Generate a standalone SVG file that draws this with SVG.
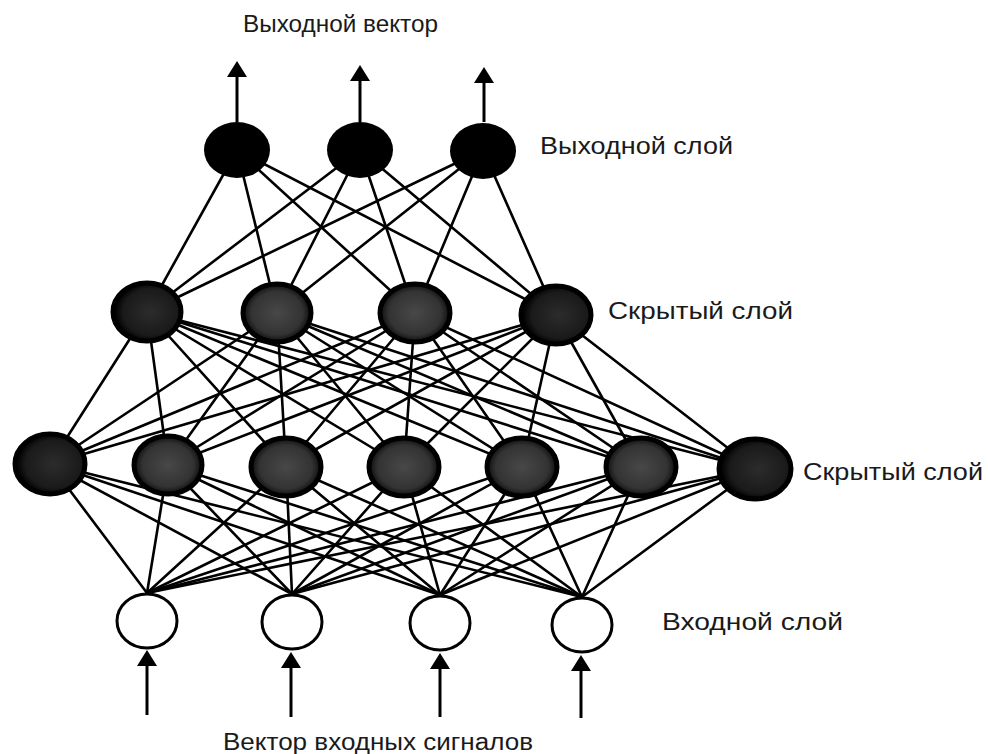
<svg xmlns="http://www.w3.org/2000/svg" width="988" height="754" viewBox="0 0 988 754">
<style>
.c line{stroke:#000;stroke-width:2.6;stroke-linecap:round}
.a{stroke:#000;stroke-width:3;marker-end:url(#ah)}
.out{fill:#000}
.hid{fill:url(#g1);stroke:#000;stroke-width:5}
.hidd{fill:url(#g2);stroke:#000;stroke-width:5}
.inp{fill:#fff;stroke:#000;stroke-width:3}
text{font-family:"Liberation Sans",Arial,sans-serif;font-size:23px;fill:#1a1a1a}
</style>
<defs>
<radialGradient id="g1" cx="0.5" cy="0.5" r="0.5">
<stop offset="0" stop-color="#484848"/><stop offset="0.75" stop-color="#333"/><stop offset="1" stop-color="#0d0d0d"/>
</radialGradient>
<radialGradient id="g2" cx="0.55" cy="0.5" r="0.5">
<stop offset="0" stop-color="#2c2c2c"/><stop offset="0.8" stop-color="#1a1a1a"/><stop offset="1" stop-color="#050505"/>
</radialGradient>
<marker id="ah" viewBox="0 0 16 20" markerWidth="16" markerHeight="20" refX="13" refY="10" orient="auto" markerUnits="userSpaceOnUse">
<path d="M0,0 L16,10 L0,20 z" fill="#000"/>
</marker>
</defs>
<rect width="988" height="754" fill="#fff"/>
<g id="connectors" class="c">
<line x1="237" y1="150" x2="147" y2="312"/><line x1="237" y1="150" x2="277" y2="313"/><line x1="237" y1="150" x2="415" y2="313"/><line x1="237" y1="150" x2="556" y2="315"/>
<line x1="360" y1="150" x2="147" y2="312"/><line x1="360" y1="150" x2="277" y2="313"/><line x1="360" y1="150" x2="415" y2="313"/><line x1="360" y1="150" x2="556" y2="315"/>
<line x1="483" y1="150" x2="147" y2="312"/><line x1="483" y1="150" x2="277" y2="313"/><line x1="483" y1="150" x2="415" y2="313"/><line x1="483" y1="150" x2="556" y2="315"/>
<line x1="147" y1="312" x2="50" y2="464"/><line x1="147" y1="312" x2="168" y2="465"/><line x1="147" y1="312" x2="286" y2="466"/><line x1="147" y1="312" x2="404" y2="467"/><line x1="147" y1="312" x2="522" y2="467"/><line x1="147" y1="312" x2="641" y2="467"/><line x1="147" y1="312" x2="755" y2="469"/>
<line x1="277" y1="313" x2="50" y2="464"/><line x1="277" y1="313" x2="168" y2="465"/><line x1="277" y1="313" x2="286" y2="466"/><line x1="277" y1="313" x2="404" y2="467"/><line x1="277" y1="313" x2="522" y2="467"/><line x1="277" y1="313" x2="641" y2="467"/><line x1="277" y1="313" x2="755" y2="469"/>
<line x1="415" y1="313" x2="50" y2="464"/><line x1="415" y1="313" x2="168" y2="465"/><line x1="415" y1="313" x2="286" y2="466"/><line x1="415" y1="313" x2="404" y2="467"/><line x1="415" y1="313" x2="522" y2="467"/><line x1="415" y1="313" x2="641" y2="467"/><line x1="415" y1="313" x2="755" y2="469"/>
<line x1="556" y1="315" x2="50" y2="464"/><line x1="556" y1="315" x2="168" y2="465"/><line x1="556" y1="315" x2="286" y2="466"/><line x1="556" y1="315" x2="404" y2="467"/><line x1="556" y1="315" x2="522" y2="467"/><line x1="556" y1="315" x2="641" y2="467"/><line x1="556" y1="315" x2="755" y2="469"/>
<line x1="50" y1="464" x2="147" y2="593"/><line x1="50" y1="464" x2="292" y2="594"/><line x1="50" y1="464" x2="440" y2="595"/><line x1="50" y1="464" x2="582" y2="597"/>
<line x1="168" y1="465" x2="147" y2="593"/><line x1="168" y1="465" x2="292" y2="594"/><line x1="168" y1="465" x2="440" y2="595"/><line x1="168" y1="465" x2="582" y2="597"/>
<line x1="286" y1="466" x2="147" y2="593"/><line x1="286" y1="466" x2="292" y2="594"/><line x1="286" y1="466" x2="440" y2="595"/><line x1="286" y1="466" x2="582" y2="597"/>
<line x1="404" y1="467" x2="147" y2="593"/><line x1="404" y1="467" x2="292" y2="594"/><line x1="404" y1="467" x2="440" y2="595"/><line x1="404" y1="467" x2="582" y2="597"/>
<line x1="522" y1="467" x2="147" y2="593"/><line x1="522" y1="467" x2="292" y2="594"/><line x1="522" y1="467" x2="440" y2="595"/><line x1="522" y1="467" x2="582" y2="597"/>
<line x1="641" y1="467" x2="147" y2="593"/><line x1="641" y1="467" x2="292" y2="594"/><line x1="641" y1="467" x2="440" y2="595"/><line x1="641" y1="467" x2="582" y2="597"/>
<line x1="755" y1="469" x2="147" y2="593"/><line x1="755" y1="469" x2="292" y2="594"/><line x1="755" y1="469" x2="440" y2="595"/><line x1="755" y1="469" x2="582" y2="597"/>
</g>
<g id="arrows">
<line class="a" x1="237" y1="122" x2="237" y2="64"/>
<line class="a" x1="360" y1="122" x2="360" y2="68"/>
<line class="a" x1="484" y1="122" x2="484" y2="70"/>
<line class="a" x1="147" y1="715" x2="147" y2="653"/>
<line class="a" x1="291" y1="717" x2="291" y2="655"/>
<line class="a" x1="440" y1="717" x2="440" y2="656"/>
<line class="a" x1="581" y1="718" x2="581" y2="658"/>
</g>
<g id="output-layer">
<ellipse id="o1" class="out" cx="237" cy="150" rx="33" ry="28"/>
<ellipse id="o2" class="out" cx="360" cy="150" rx="33" ry="28"/>
<ellipse id="o3" class="out" cx="483" cy="151" rx="33" ry="28"/>
</g>
<g id="hidden-layer-2">
<ellipse id="h2a" class="hidd" cx="147" cy="312" rx="34" ry="29"/>
<ellipse id="h2b" class="hid" cx="277" cy="313" rx="34" ry="29"/>
<ellipse id="h2c" class="hid" cx="415" cy="313" rx="35" ry="29"/>
<ellipse id="h2d" class="hidd" cx="556" cy="315" rx="35" ry="29"/>
</g>
<g id="hidden-layer-1">
<ellipse id="h1a" class="hidd" cx="50" cy="464" rx="35" ry="30"/>
<ellipse id="h1b" class="hid" cx="168" cy="465" rx="34" ry="29"/>
<ellipse id="h1c" class="hid" cx="286" cy="467" rx="35" ry="29"/>
<ellipse id="h1d" class="hid" cx="404" cy="467" rx="35" ry="29"/>
<ellipse id="h1e" class="hid" cx="522" cy="467" rx="35" ry="29"/>
<ellipse id="h1f" class="hid" cx="641" cy="467" rx="35" ry="29"/>
<ellipse id="h1g" class="hidd" cx="755" cy="469" rx="36" ry="30"/>
</g>
<g id="input-layer">
<ellipse id="i1" class="inp" cx="147" cy="621" rx="30" ry="27"/>
<ellipse id="i2" class="inp" cx="292" cy="622" rx="30" ry="27"/>
<ellipse id="i3" class="inp" cx="440" cy="623" rx="30" ry="27"/>
<ellipse id="i4" class="inp" cx="582" cy="625" rx="30" ry="27"/>
</g>
<g id="labels">
<text x="243" y="32" textLength="195" lengthAdjust="spacingAndGlyphs">Выходной вектор</text>
<text x="540" y="154" textLength="193" lengthAdjust="spacingAndGlyphs">Выходной слой</text>
<text x="608" y="319" textLength="185" lengthAdjust="spacingAndGlyphs">Скрытый слой</text>
<text x="803" y="480" textLength="180" lengthAdjust="spacingAndGlyphs">Скрытый слой</text>
<text x="662" y="630" textLength="181" lengthAdjust="spacingAndGlyphs">Входной слой</text>
<text x="223" y="750" textLength="310" lengthAdjust="spacingAndGlyphs">Вектор входных сигналов</text>
</g>
</svg>
